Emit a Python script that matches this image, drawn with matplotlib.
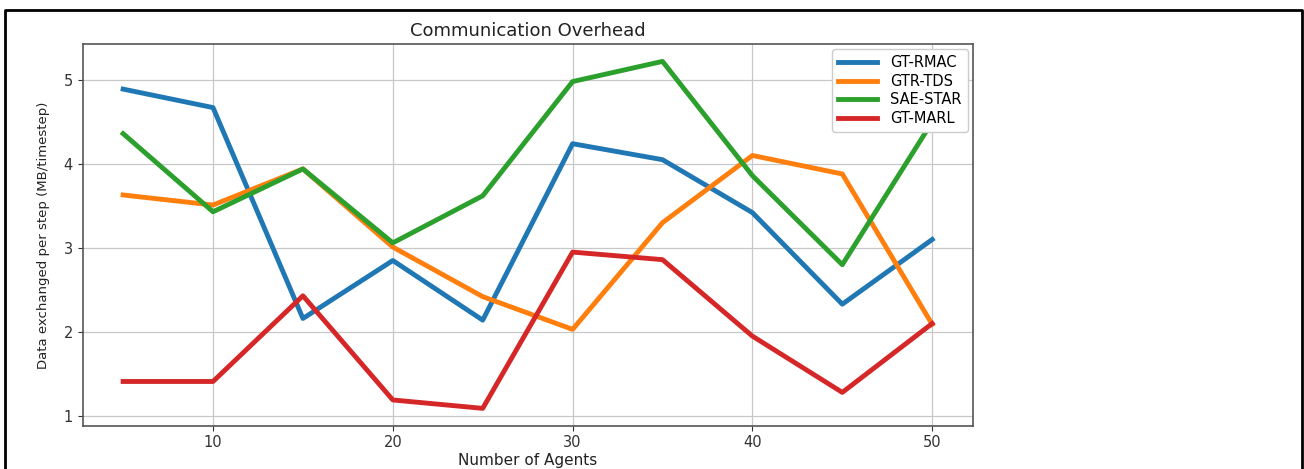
import matplotlib
matplotlib.use("Agg")
import matplotlib.pyplot as plt
from matplotlib.lines import Line2D

# Number of agents on the x axis
agents = [5, 10, 15, 20, 25, 30, 35, 40, 45, 50]

# Data exchanged per step (MB/timestep)
gt_rmac = [4.89, 4.67, 2.16, 2.85, 2.14, 4.24, 4.05, 3.42, 2.33, 3.10]
gtr_tds = [3.63, 3.51, 3.94, 3.01, 2.42, 2.03, 3.30, 4.10, 3.88, 2.09]
sae_star = [4.36, 3.43, 3.94, 3.06, 3.62, 4.98, 5.22, 3.86, 2.80, 4.50]
gt_marl = [1.41, 1.41, 2.43, 1.19, 1.09, 2.95, 2.86, 1.95, 1.28, 2.10]

series = {
    "GT-RMAC": gt_rmac,
    "GTR-TDS": gtr_tds,
    "SAE-STAR": sae_star,
    "GT-MARL": gt_marl,
}

fig = plt.figure(figsize=(13.04, 4.69), dpi=100)
ax = fig.add_axes([0.0634, 0.0923, 0.6825, 0.8138])

for name, values in series.items():
    ax.plot(agents, values, linewidth=3.5, label=name)

ax.set_title("Communication Overhead", fontsize=13, color="#222222")
ax.set_xlabel("Number of Agents", fontsize=11, color="#222222", labelpad=2)
ax.set_ylabel("Data exchanged per step (MB/timestep)", fontsize=9.5,
              color="#222222", labelpad=10)
ax.tick_params(labelsize=10.5, colors="#333333")
ax.set_yticks([1, 2, 3, 4, 5])
ax.grid(True, color="#c8c8c8", linewidth=0.9)
for s in ax.spines.values():
    s.set_color("#555555")
    s.set_linewidth(1.2)

ax.legend(loc="upper right", fontsize=10.5, handlelength=2.7,
          handletextpad=0.9, labelspacing=0.25, borderaxespad=0.35,
          framealpha=1.0)

# black frame around the pasted figure (no bottom edge)
x0, x1 = 5 / 1304, 1302 / 1304
y0, y1 = 0.0, 1 - 10.5 / 469
fig.add_artist(Line2D([x0, x0, x1, x1], [y0, y1, y1, y0],
                      transform=fig.transFigure, color="black", linewidth=2))

fig.savefig("out.png", dpi=100)
